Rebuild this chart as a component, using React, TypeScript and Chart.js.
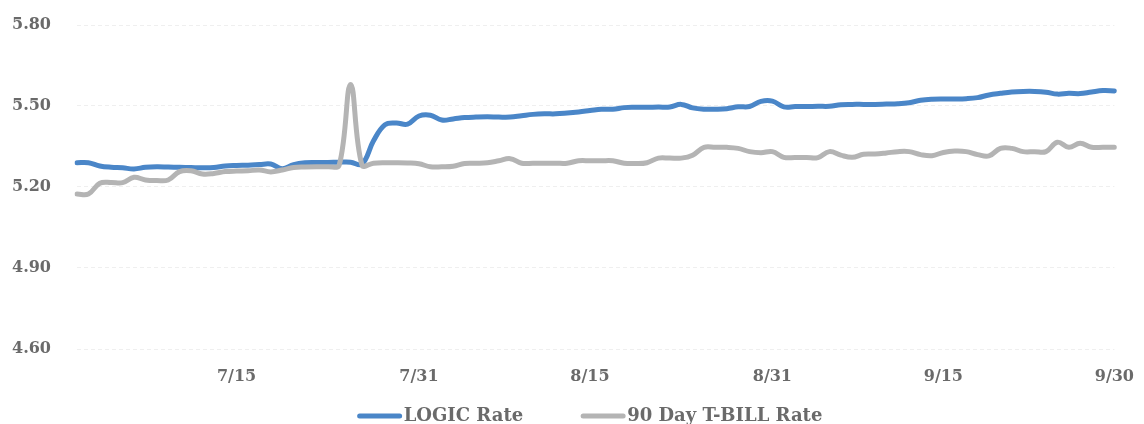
import React, { useEffect, useRef } from 'react';
import { Chart, registerables } from 'chart.js';

Chart.register(...registerables);

// Daily observations, July 1 through September 30
const months = [7, 8, 9];
const monthLengths = [31, 31, 30];
const dayLabels: string[] = months.flatMap((m, i) =>
  Array.from({ length: monthLengths[i] }, (_, d) => `${m}/${d + 1}`)
);

// Only these dates carry a visible label on the x axis
const shownTicks = ['7/15', '7/31', '8/15', '8/31', '9/15', '9/30'];
const yTicks = [4.6, 4.9, 5.2, 5.5, 5.8];

const logicRate = [
  5.290, 5.290, 5.278, 5.273, 5.271, 5.267, 5.273, 5.275, 5.274, 5.273,
  5.272, 5.271, 5.272, 5.278, 5.280, 5.281, 5.283, 5.285, 5.268, 5.283,
  5.290, 5.291, 5.291, 5.292, 5.292, 5.285, 5.370, 5.430, 5.437, 5.433,
  5.463, 5.466, 5.448, 5.452, 5.457, 5.459, 5.460, 5.459, 5.459, 5.464,
  5.469, 5.471, 5.471, 5.474, 5.478, 5.483, 5.488, 5.488, 5.494, 5.495,
  5.495, 5.496, 5.496, 5.506, 5.493, 5.488, 5.488, 5.490, 5.497, 5.498,
  5.517, 5.518, 5.497, 5.498, 5.498, 5.499, 5.499, 5.505, 5.506, 5.506,
  5.506, 5.507, 5.508, 5.512, 5.521, 5.525, 5.526, 5.526, 5.527, 5.531,
  5.541, 5.547, 5.552, 5.554, 5.554, 5.551, 5.544, 5.547, 5.546, 5.552,
  5.557, 5.556,
];

const tbillRate = [
  5.174, 5.174, 5.214, 5.217, 5.216, 5.236, 5.226, 5.224, 5.226, 5.257,
  5.260, 5.248, 5.250, 5.257, 5.259, 5.260, 5.263, 5.256, 5.263, 5.272,
  5.274, 5.275, 5.275, 5.281, 5.580, 5.281, 5.288, 5.290, 5.290, 5.289,
  5.286, 5.275, 5.275, 5.277, 5.287, 5.288, 5.290, 5.297, 5.305, 5.288,
  5.288, 5.288, 5.288, 5.288, 5.297, 5.297, 5.297, 5.297, 5.288, 5.287,
  5.290, 5.307, 5.307, 5.307, 5.318, 5.347, 5.347, 5.347, 5.343, 5.331,
  5.327, 5.331, 5.310, 5.309, 5.309, 5.309, 5.331, 5.318, 5.310, 5.321,
  5.322, 5.326, 5.331, 5.331, 5.320, 5.316, 5.328, 5.333, 5.331, 5.320,
  5.315, 5.343, 5.343, 5.331, 5.331, 5.331, 5.366, 5.347, 5.362, 5.347,
  5.347, 5.347,
];

const LOGIC_BLUE = '#4a86c8';
const TBILL_GREY = '#b4b4b4';
const TEXT_GREY = '#6a6a6a';
const SERIF = '"DejaVu Serif", serif';

// Legend drawn under the axis: a short line swatch butted against each label
const bottomLegend = {
  id: 'bottomLegend',
  afterDraw(chart: any) {
    const { ctx } = chart;
    ctx.save();
    ctx.font = `bold 18px ${SERIF}`;
    ctx.textBaseline = 'middle';
    ctx.textAlign = 'left';
    const swatch = 44;
    const gap = 2;
    const spacing = 58;
    const items = chart.data.datasets.map((ds: any) => ({
      text: ds.label as string,
      color: ds.borderColor as string,
      width: ds.borderWidth as number,
    }));
    const widths = items.map((it: any) => swatch + gap + ctx.measureText(it.text).width);
    const total = widths.reduce((a: number, b: number) => a + b, 0) + spacing * (items.length - 1);
    let x = 590 - total / 2;
    const y = 416;
    items.forEach((it: any, i: number) => {
      ctx.strokeStyle = it.color;
      ctx.lineWidth = it.width;
      ctx.lineCap = 'round';
      ctx.beginPath();
      ctx.moveTo(x + 2, y);
      ctx.lineTo(x + swatch - 2, y);
      ctx.stroke();
      ctx.fillStyle = TEXT_GREY;
      ctx.fillText(it.text, x + swatch + gap, y);
      x += widths[i] + spacing;
    });
    ctx.restore();
  },
};

export default function App() {
  const canvasRef = useRef<HTMLCanvasElement | null>(null);

  useEffect(() => {
    const canvas = canvasRef.current;
    if (!canvas) return;
    const chart = new Chart(canvas, {
      type: 'line',
      data: {
        labels: dayLabels,
        datasets: [
          {
            label: 'LOGIC Rate',
            data: logicRate,
            borderColor: LOGIC_BLUE,
            backgroundColor: LOGIC_BLUE,
            borderWidth: 5,
            pointRadius: 0,
            tension: 0.4,
            borderCapStyle: 'round',
            borderJoinStyle: 'round',
            order: 1,
          },
          {
            label: '90 Day T-BILL Rate',
            data: tbillRate,
            borderColor: TBILL_GREY,
            backgroundColor: TBILL_GREY,
            borderWidth: 5,
            pointRadius: 0,
            tension: 0.4,
            borderCapStyle: 'round',
            borderJoinStyle: 'round',
            order: 0,
          },
        ],
      },
      options: {
        responsive: false,
        animation: false,
        layout: { padding: { left: 12, right: 22, top: 25, bottom: 35 } },
        plugins: {
          legend: { display: false },
          tooltip: { enabled: false },
        },
        scales: {
          x: {
            type: 'category',
            offset: false,
            grid: { display: false },
            border: { display: false },
            afterFit: (scale: any) => {
              scale.height = 40;
            },
            ticks: {
              autoSkip: false,
              maxRotation: 0,
              minRotation: 0,
              padding: 10,
              color: TEXT_GREY,
              font: { family: SERIF, size: 16, weight: 'bold' },
              callback: (_v: any, i: number) =>
                shownTicks.includes(dayLabels[i]) ? dayLabels[i] : '',
            },
          },
          y: {
            min: 4.6,
            max: 5.8,
            afterFit: (scale: any) => {
              scale.width = 65;
            },
            afterBuildTicks: (scale: any) => {
              scale.ticks = yTicks.map((v) => ({ value: v }));
            },
            grid: { color: '#efefef', lineWidth: 1, drawTicks: false },
            border: { display: false, dash: [4, 3] },
            ticks: {
              crossAlign: 'far',
              padding: 0,
              color: TEXT_GREY,
              font: { family: SERIF, size: 16, weight: 'bold' },
              callback: (v: any) => Number(v).toFixed(2),
            },
          },
        },
      },
      plugins: [bottomLegend],
    });
    return () => chart.destroy();
  }, []);

  return (
    <div style={{ position: 'fixed', left: 0, top: 0, width: 1144, height: 424, background: '#fff' }}>
      <canvas ref={canvasRef} width={1144} height={424} style={{ width: 1144, height: 424 }} />
    </div>
  );
}
